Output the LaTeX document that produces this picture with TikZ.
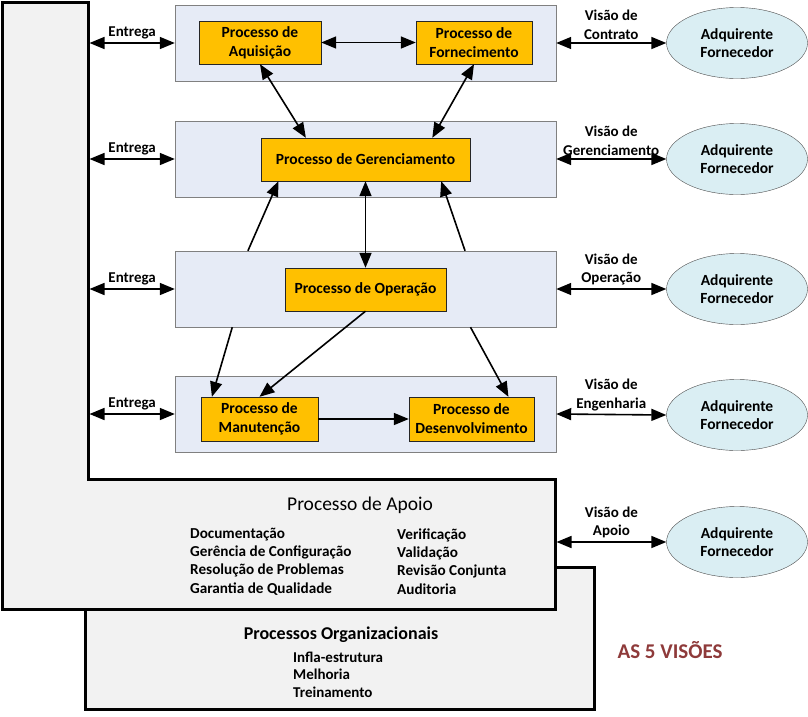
\documentclass[tikz,border=0pt]{standalone}
\usepackage{fontspec}
\setmainfont{Carlito}
\usetikzlibrary{arrows.meta,shapes.geometric}

\definecolor{camadacor}{HTML}{E6EBF6}
\definecolor{laranja}{HTML}{FFC000}
\definecolor{elipsecor}{HTML}{DAEEF3}
\definecolor{fundo}{HTML}{F2F2F2}
\definecolor{vermelho}{HTML}{8E3A3A}

\tikzset{
    camada/.style={draw=black!50, fill=camadacor, minimum width=381pt, minimum height=76pt, inner sep=0pt},
    processo/.style={draw=black!85, fill=laranja, minimum height=43pt, inner sep=1pt, align=center,
        font=\bfseries\fontsize{15.5}{19}\selectfont},
    ator/.style={ellipse, draw=black!70, fill=elipsecor, minimum width=141pt, minimum height=71pt,
        inner sep=0pt, align=center, font=\bfseries\fontsize{15.5}{18.5}\selectfont},
    apoio/.style={draw=black, line width=3pt, fill=fundo},
    ponta/.tip={Triangle[length=15pt,width=12pt]},
    seta/.style={-ponta, line width=1.6pt},
    seta2/.style={ponta-ponta, line width=1.6pt},
    rotulo/.style={above, align=center, inner sep=3pt, font=\bfseries\fontsize{15}{18.5}\selectfont},
}

\begin{document}
\begin{tikzpicture}[x=1pt, y=-1pt]
    \useasboundingbox (0,0) rectangle (808,716);

    % 組織プロセスと支援プロセス
    \draw[apoio] (85,567) rectangle (594,709);
    \draw[apoio] (2,2) -- (88,2) -- (88,479) -- (555,479) -- (555,609) -- (2,609) -- cycle;
    \coordinate (ap) at (89.5,0);
    \coordinate (apd) at (556.5,542);

    \node[font=\fontsize{19.5}{23}\selectfont] (tap) at (360,505) {Processo de Apoio};
    \node[anchor=west, align=left, inner sep=0pt, font=\bfseries\fontsize{15.2}{18.3}\selectfont] (ap1) at (190,561.5)
        {Documentação\\Gerência de Configuração\\Resolução de Problemas\\Garantia de Qualidade};
    \node[anchor=west, align=left, inner sep=0pt, font=\bfseries\fontsize{15.2}{18.3}\selectfont] (ap2) at (397,561.5)
        {Verificação\\Validação\\Revisão Conjunta\\Auditoria};

    \node[font=\bfseries\fontsize{18}{21}\selectfont] (torg) at (341,635) {Processos Organizacionais};
    \node[anchor=west, align=left, inner sep=0pt, font=\bfseries\fontsize{15}{17.5}\selectfont] (org) at (293,674.5)
        {Infla-estrutura\\Melhoria\\Treinamento};

    \node[text=vermelho, font=\bfseries\fontsize{21}{24}\selectfont] (vis) at (670,650) {AS 5 VISÕES};

    % 層の描画
    \node[camada] (c1) at (365.5,43) {};
    \node[camada] (c2) at (365.5,159) {};
    \node[camada] (c3) at (365.5,289) {};
    \node[camada] (c4) at (365.5,414) {};

    \node[processo, minimum width=122pt] (aq) at (260,42.5) {Processo de\\Aquisição};
    \node[processo, minimum width=116pt] (fo) at (474,42.5) {Processo de\\Fornecimento};
    \node[processo, minimum width=209pt] (ger) at (365.5,159.5) {Processo de Gerenciamento};
    \node[processo, minimum width=161pt] (op) at (365.5,289.5) {Processo de Operação};
    \node[processo, minimum width=117pt, minimum height=44pt] (man) at (259.5,419) {Processo de\\Manutenção};
    \node[processo, minimum width=125pt, minimum height=44pt] (des) at (471.5,419) {Processo de\\Desenvolvimento};

    % 外部
    \node[ator] (e1) at (737,43) {Adquirente\\Fornecedor};
    \node[ator] (e2) at (737,159) {Adquirente\\Fornecedor};
    \node[ator] (e3) at (737,289) {Adquirente\\Fornecedor};
    \node[ator] (e4) at (737,415) {Adquirente\\Fornecedor};
    \node[ator] (e5) at (737,542) {Adquirente\\Fornecedor};

    % 矢印
    \foreach \c in {c1,c2,c3,c4}
        \draw[seta2] (\c.west -| ap) -- node[rotulo] {Entrega} (\c.west);

    \draw[seta2] (c1.east) -- node[rotulo] {Visão de\\Contrato} (e1.west);
    \draw[seta2] (c2.east) -- node[rotulo] {Visão de\\Gerenciamento} (e2.west);
    \draw[seta2] (c3.east) -- node[rotulo] {Visão de\\Operação} (e3.west);
    \draw[seta2] (c4.east) -- node[rotulo] {Visão de\\Engenharia} (e4.west);
    \draw[seta2] (apd) -- node[rotulo] {Visão de\\Apoio} (e5.west);

    \draw[seta2] (aq.east) -- (fo.west);
    \draw[seta2] (aq.south) -- (ger.160);
    \draw[seta2] (fo.south) -- (ger.18);
    \draw[seta2] (ger.south) -- (op.north);
    \draw[seta] (c3.162) -- (ger.194);
    \draw[seta] (c3.21) -- (ger.344);
    \draw[seta] (c3.196) -- (man.155);
    \draw[seta] (op.south) -- (man.north);
    \draw[seta] (c3.340) -- (des.31);
    \draw[seta] (man.east) -- (des.west);
\end{tikzpicture}
\end{document}
